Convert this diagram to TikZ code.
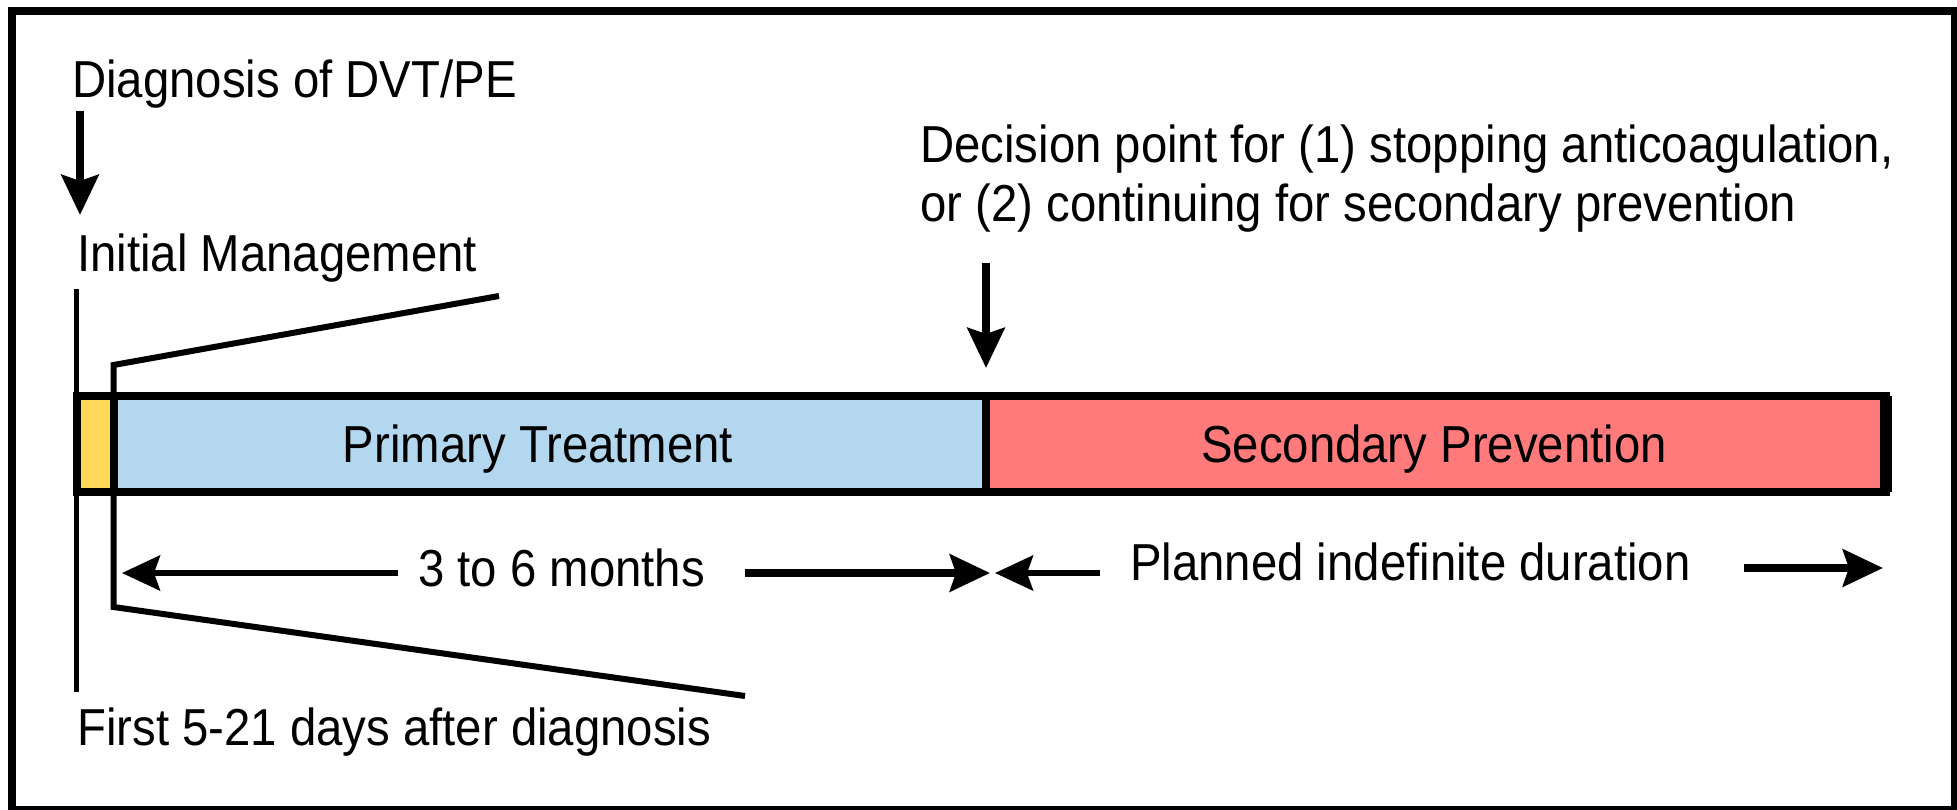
\documentclass[tikz,border=0pt]{standalone}
\usepackage{fontspec}
\setmainfont{Liberation Sans}[FakeStretch=0.91]
\usetikzlibrary{arrows.meta}
\definecolor{yel}{HTML}{FFD95C}
\definecolor{blu}{HTML}{B3D7EE}
\definecolor{redf}{HTML}{FF7B7B}
\begin{document}
\begin{tikzpicture}[x=1pt,y=-1pt,
  lbl/.style={inner sep=0pt, font=\fontsize{52}{60}\selectfont},
  bar/.style={draw, line width=8pt, minimum height=96.5pt, inner sep=0pt, outer sep=0pt},
  arr/.style={line width=8pt, -{Stealth[length=40pt,width=37pt,inset=6pt]}},
  tarr/.style={line width=5.5pt, -{Stealth[length=38pt,width=35pt,inset=6pt]}},
  brk/.style={line width=6pt, line join=miter}]
\useasboundingbox (0,0) rectangle (1957,809);
% frame
\draw[line width=8pt] (12,11) rectangle (1955,810);
% bar
\node[bar, fill=yel, minimum width=37pt] (ini) at (95,443.75) {};
\node[bar, fill=blu, minimum width=872.5pt] (prim) at (549.75,443.75) {};
\node[bar, fill=redf, minimum width=900pt] (sec) at (1436,443.75) {};
\draw[line width=12pt] (sec.north east) -- (sec.south east);
% texts
\node[lbl, anchor=base west] (diag) at (72,97) {Diagnosis of DVT/PE};
\node[lbl, anchor=base west] (initm) at (77,271) {Initial Management};
\node[lbl, anchor=base west] (dec1) at (920,162) {Decision point for (1) stopping anticoagulation,};
\node[lbl, anchor=base west] (dec2) at (920,221) {or (2) continuing for secondary prevention};
\node[lbl, anchor=base] (ptxt) at (538,462) {Primary Treatment};
\node[lbl, anchor=base] (stxt) at (1434,462) {Secondary Prevention};
\node[lbl, anchor=base west] (months) at (418,586) {3 to 6 months};
\node[lbl, anchor=base west] (planned) at (1130,580) {Planned indefinite duration};
\node[lbl, anchor=base west] (first) at (77,745) {First 5-21 days after diagnosis};
% initial-management lines
\coordinate (L1) at (76.5,289);
\coordinate (L2) at (76.5,692);
\draw[line width=5.5pt] (L1) -- (L2);
\coordinate (B1) at (499,296);
\coordinate (B2) at (113.5,365);
\coordinate (B3) at (113.5,607);
\coordinate (B4) at (745,696);
\draw[brk] (B1) -- (B2) -- (B3) -- (B4);
% arrows
\coordinate (dA) at (80,111);
\coordinate (dB) at (80,215);
\draw[arr] (dA) -- (dB);
\coordinate (kA) at (986,263);
\coordinate (kB) at (986,368);
\draw[arr] (kA) -- (kB);
\coordinate (m1a) at (398,573);
\coordinate (m1b) at (122,573);
\draw[tarr] (m1a) -- (m1b);
\coordinate (m2a) at (745,573);
\coordinate (m2b) at (990,573);
\draw[arr] (m2a) -- (m2b);
\coordinate (p1a) at (1100,573);
\coordinate (p1b) at (995,573);
\draw[tarr] (p1a) -- (p1b);
\coordinate (p2a) at (1744,568);
\coordinate (p2b) at (1883,568);
\draw[arr] (p2a) -- (p2b);
\end{tikzpicture}
\end{document}
